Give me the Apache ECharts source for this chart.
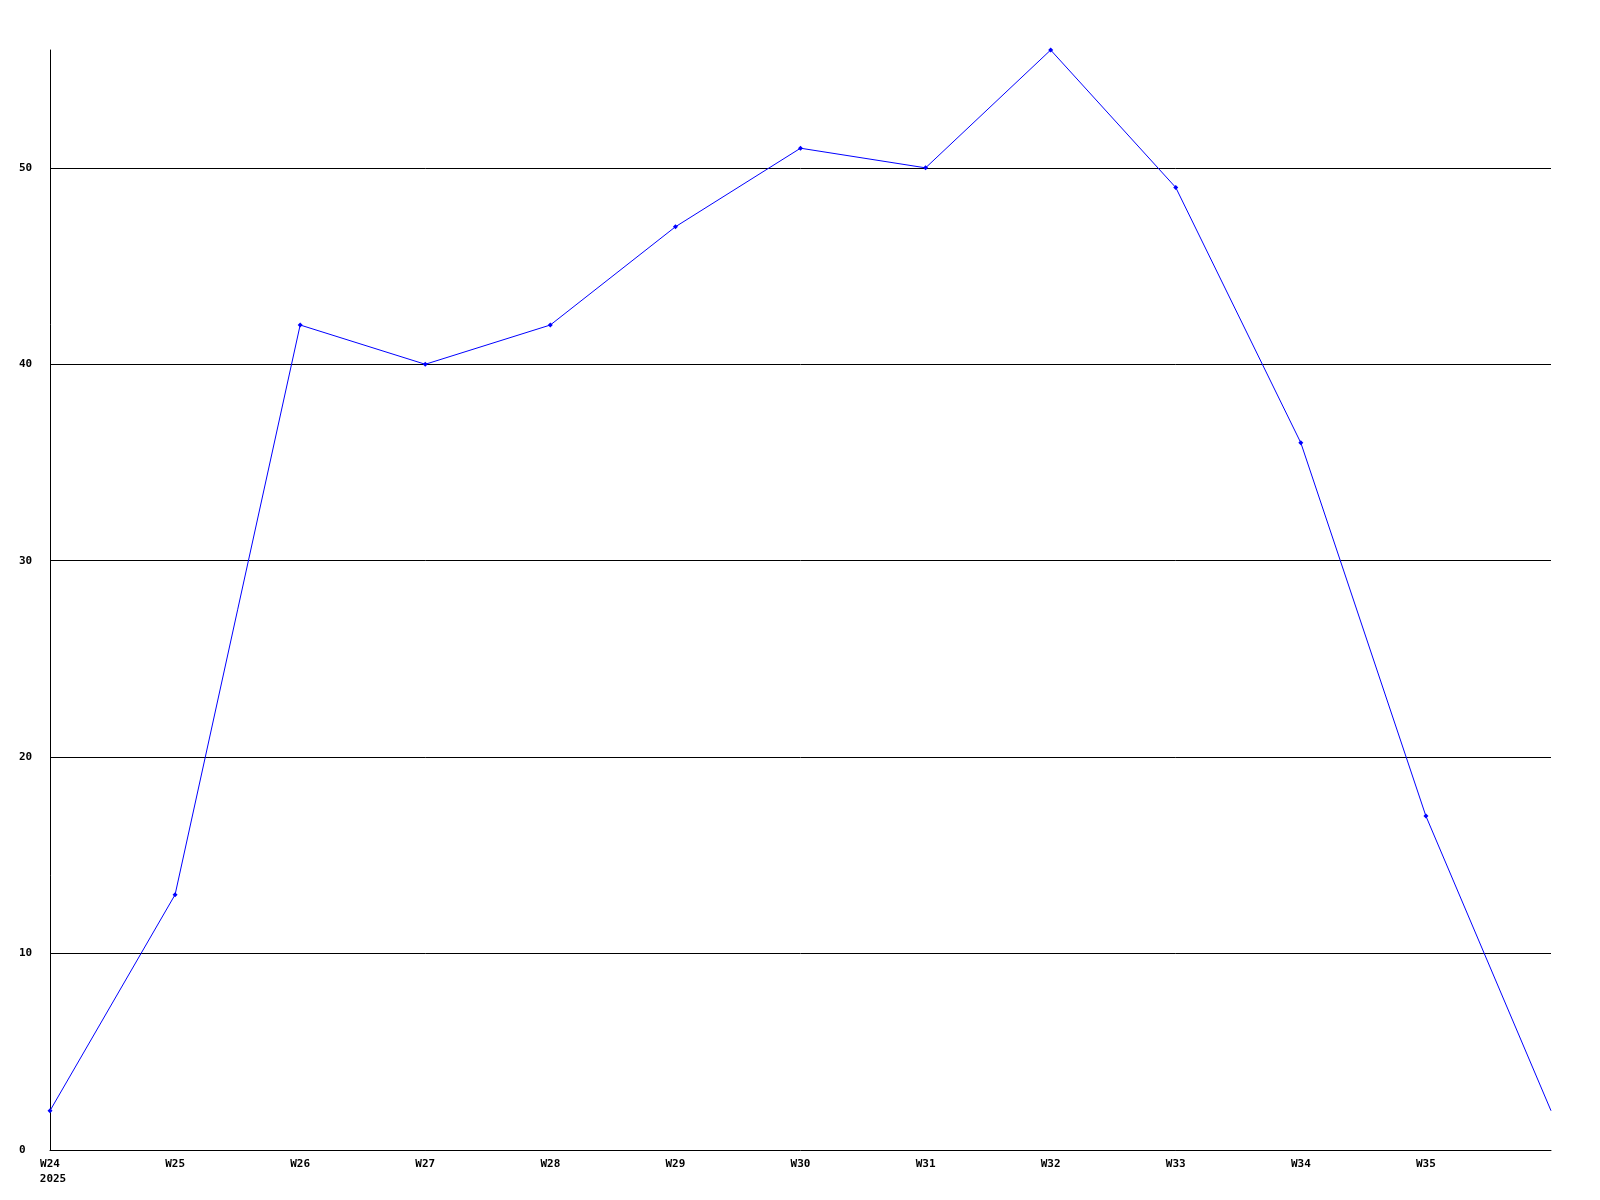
<!DOCTYPE html>
<html>
<head>
<meta charset="utf-8">
<script src="https://cdn.jsdelivr.net/npm/echarts@6/dist/echarts.min.js"></script>
<style>html,body{margin:0;padding:0;background:#fff}#c{width:1600px;height:1200px}</style>
</head>
<body>
<div id="c"></div>
<script>
const categories = ['W24','W25','W26','W27','W28','W29','W30','W31','W32','W33','W34','W35','W36'];
const values = [2, 13, 42, 40, 42, 47, 51, 50, 56, 49, 36, 17, 2];
const yearLabel = '2025';
const yMin = 0, yMax = 56, yInterval = 10;

const font = 'DejaVu Sans Mono';
const seriesData = values.map(function (v, i) {
  return i === values.length - 1 ? {value: v, symbol: 'none'} : v;
});
const chart = echarts.init(document.getElementById('c'), null, {renderer: 'canvas'});
chart.setOption({
  animation: false,
  backgroundColor: '#ffffff',
  grid: {left: 50, right: 49, top: 50, bottom: 50, containLabel: false},
  xAxis: {
    type: 'category',
    data: categories,
    boundaryGap: false,
    axisLine: {show: true, lineStyle: {color: '#000', width: 1}},
    axisTick: {show: false},
    splitLine: {show: false},
    axisLabel: {
      interval: 0,
      margin: 7,
      color: '#000',
      fontFamily: font,
      fontWeight: 'bold',
      fontSize: 11,
      lineHeight: 15,
      formatter: function (v, i) {
        if (i === categories.length - 1) return '';
        if (i === 0) return '{a|' + v + '}\n{b|' + yearLabel + '}';
        return v;
      },
      rich: {
        a: {fontFamily: font, fontWeight: 'bold', fontSize: 11, color: '#000', lineHeight: 15},
        b: {fontFamily: font, fontWeight: 'bold', fontSize: 11, color: '#000', lineHeight: 15, padding: [0, 0, 0, 6]}
      }
    }
  },
  yAxis: {
    type: 'value',
    min: yMin,
    max: yMax,
    interval: yInterval,
    axisLine: {show: true, lineStyle: {color: '#000', width: 1}},
    axisTick: {show: false},
    splitLine: {show: true, showMinLine: false, showMaxLine: false, lineStyle: {color: '#000', width: 1}},
    axisLabel: {
      showMaxLabel: false,
      align: 'left',
      margin: 31,
      color: '#000',
      fontFamily: font,
      fontWeight: 'bold',
      fontSize: 11
    }
  },
  series: [{
    type: 'line',
    data: seriesData,
    symbol: 'diamond',
    symbolSize: 5,
    showAllSymbol: true,
    lineStyle: {color: '#0000ff', width: 1},
    itemStyle: {color: '#0000ff'},
    emphasis: {disabled: true}
  }]
});
</script>
</body>
</html>
